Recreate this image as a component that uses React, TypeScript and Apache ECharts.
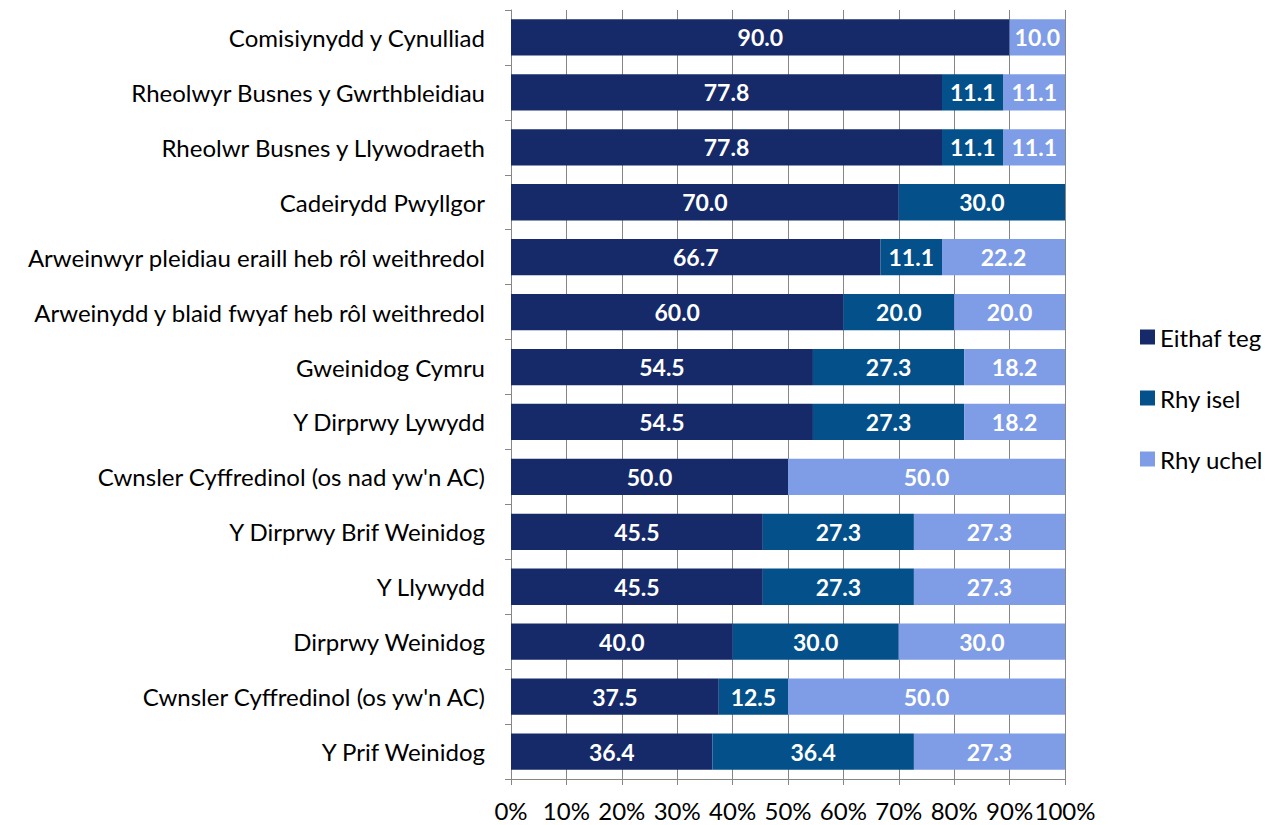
import React, { useEffect, useRef } from "react";
import * as echarts from "echarts";

const categories = [
  "Comisiynydd y Cynulliad",
  "Rheolwyr Busnes y Gwrthbleidiau",
  "Rheolwr Busnes y Llywodraeth",
  "Cadeirydd Pwyllgor",
  "Arweinwyr pleidiau eraill heb rôl weithredol",
  "Arweinydd y blaid fwyaf heb rôl weithredol",
  "Gweinidog Cymru",
  "Y Dirprwy Lywydd",
  "Cwnsler Cyffredinol (os nad yw'n AC)",
  "Y Dirprwy Brif Weinidog",
  "Y Llywydd",
  "Dirprwy Weinidog",
  "Cwnsler Cyffredinol (os yw'n AC)",
  "Y Prif Weinidog",
];

const eithafTeg = [90.0, 77.8, 77.8, 70.0, 66.7, 60.0, 54.5, 54.5, 50.0, 45.5, 45.5, 40.0, 37.5, 36.4];
const rhyIsel = [0, 11.1, 11.1, 30.0, 11.1, 20.0, 27.3, 27.3, 0, 27.3, 27.3, 30.0, 12.5, 36.4];
const rhyUchel = [10.0, 11.1, 11.1, 0, 22.2, 20.0, 18.2, 18.2, 50.0, 27.3, 27.3, 30.0, 50.0, 27.3];

const seriesNames = ["Eithaf teg", "Rhy isel", "Rhy uchel"];
const colors = ["#162A69", "#03508A", "#7F9CE6"];

const FONT = "Lato, 'Open Sans', sans-serif";

export default function App() {
  const ref = useRef<HTMLDivElement>(null);
  useEffect(() => {
    if (!ref.current) return;
    const chart = echarts.init(ref.current, null, { renderer: "svg" });
    const raw = [eithafTeg, rhyIsel, rhyUchel];
    const totals = categories.map((_, i) => eithafTeg[i] + rhyIsel[i] + rhyUchel[i]);
    const series = raw.map((arr, s) => ({
      name: seriesNames[s],
      type: "bar",
      stack: "total",
      barCategoryGap: "34%",
      itemStyle: { color: colors[s] },
      label: {
        show: true,
        position: "inside",
        color: "#ffffff",
        fontFamily: FONT,
        fontWeight: "bold",
        fontSize: 23,
        formatter: (p: any) => arr[p.dataIndex].toFixed(1),
      },
      data: arr.map((v, i) => (v === 0 ? null : (v / totals[i]) * 100)),
    }));
    chart.setOption({
      animation: false,
      legend: {
        orient: "vertical",
        left: 1135,
        top: 320,
        itemGap: 37,
        itemWidth: 15,
        itemHeight: 15,
        icon: "rect",
        textStyle: { fontFamily: FONT, fontSize: 24, lineHeight: 24, color: "#000" },
        data: seriesNames,
      },
      grid: { left: 511, right: 209, top: 10, bottom: 46, containLabel: false },
      xAxis: {
        type: "value",
        min: 0,
        max: 100,
        interval: 10,
        axisLine: { show: true, lineStyle: { color: "#868686" } },
        axisTick: { show: true, length: 6, lineStyle: { color: "#868686" } },
        splitLine: { show: true, lineStyle: { color: "#868686", width: 1 } },
        axisLabel: {
          formatter: "{value}%",
          fontFamily: FONT,
          fontSize: 24,
          color: "#000",
          margin: 19,
        },
      },
      yAxis: {
        type: "category",
        inverse: true,
        data: categories,
        axisLine: { show: true, lineStyle: { color: "#868686" } },
        axisTick: { show: true, length: 6, lineStyle: { color: "#868686" } },
        axisLabel: { fontFamily: FONT, fontSize: 24, color: "#000", margin: 26 },
      },
      series,
    });
    return () => chart.dispose();
  }, []);
  return (
    <div
      ref={ref}
      style={{ position: "fixed", left: 0, top: 0, width: 1274, height: 825, background: "#fff" }}
    />
  );
}
